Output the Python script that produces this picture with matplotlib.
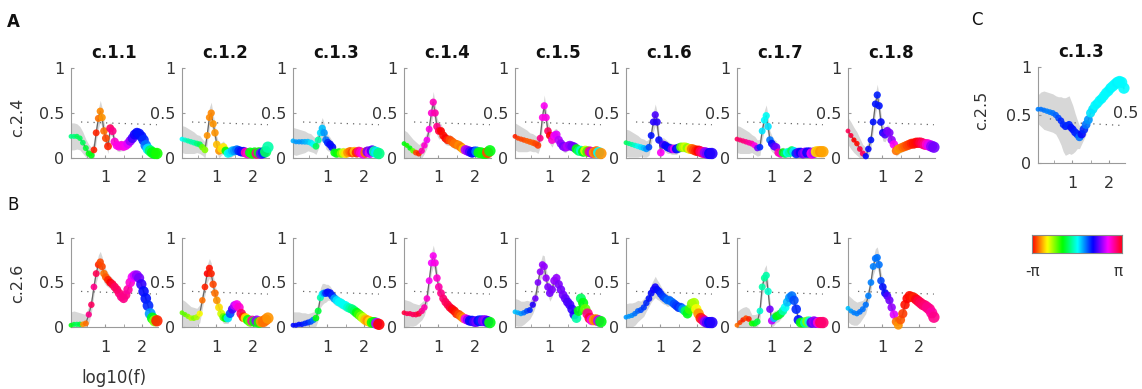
import numpy as np
import matplotlib
matplotlib.use("Agg")
import matplotlib.pyplot as plt

plt.rcParams['font.family'] = ['DejaVu Sans']

# ---------------- data ----------------
LOGF = [0.08, 0.16, 0.24, 0.32, 0.40, 0.48, 0.56, 0.63, 0.70, 0.76, 0.82, 0.87, 0.92, 0.97,
        1.02, 1.08, 1.14, 1.20, 1.26, 1.32, 1.38, 1.44, 1.50, 1.56, 1.62, 1.68, 1.74, 1.80,
        1.86, 1.92, 1.98, 2.04, 2.10, 2.16, 2.22, 2.28, 2.34, 2.40]

TITLES_A = ["c.1.1", "c.1.2", "c.1.3", "c.1.4", "c.1.5", "c.1.6", "c.1.7", "c.1.8"]
YLABEL_A = "c.2.4"
YLABEL_B = "c.2.6"
TITLE_C = "c.1.3"
YLABEL_C = "c.2.5"

# coherence (row A)
COH_A1 = [0.24,0.24,0.24,0.22,0.17,0.11,0.05,0.03,0.09,0.28,0.44,0.52,0.45,0.30,0.22,0.13,0.33,0.30,0.18,0.14,0.13,0.14,0.13,0.14,0.16,0.19,0.22,0.26,0.28,0.27,0.24,0.20,0.14,0.10,0.08,0.06,0.05,0.05]
COH_A2 = [0.21,0.20,0.19,0.18,0.17,0.16,0.15,0.12,0.09,0.25,0.45,0.50,0.38,0.28,0.15,0.08,0.10,0.12,0.08,0.05,0.06,0.08,0.08,0.09,0.08,0.07,0.07,0.06,0.05,0.06,0.05,0.06,0.05,0.06,0.05,0.06,0.07,0.12]
COH_A3 = [0.19,0.18,0.18,0.18,0.18,0.18,0.17,0.15,0.13,0.20,0.28,0.33,0.28,0.20,0.17,0.15,0.12,0.06,0.05,0.06,0.05,0.06,0.05,0.06,0.07,0.06,0.07,0.06,0.07,0.06,0.05,0.06,0.07,0.06,0.08,0.07,0.06,0.05]
COH_A4 = [0.16,0.14,0.11,0.08,0.06,0.05,0.08,0.14,0.20,0.32,0.50,0.62,0.50,0.35,0.30,0.30,0.25,0.22,0.20,0.20,0.18,0.16,0.15,0.14,0.12,0.10,0.09,0.08,0.07,0.06,0.07,0.07,0.06,0.06,0.05,0.05,0.06,0.08]
COH_A5 = [0.24,0.22,0.21,0.20,0.19,0.18,0.17,0.16,0.14,0.22,0.45,0.58,0.45,0.30,0.25,0.20,0.25,0.26,0.20,0.16,0.13,0.12,0.13,0.14,0.13,0.12,0.10,0.08,0.08,0.07,0.08,0.07,0.07,0.06,0.06,0.07,0.06,0.05]
COH_A6 = [0.17,0.16,0.15,0.14,0.13,0.12,0.11,0.10,0.12,0.25,0.40,0.48,0.40,0.20,0.06,0.15,0.14,0.12,0.11,0.10,0.10,0.10,0.11,0.12,0.12,0.12,0.11,0.10,0.10,0.09,0.08,0.08,0.07,0.06,0.06,0.05,0.05,0.05]
COH_A7 = [0.21,0.20,0.19,0.18,0.17,0.16,0.14,0.11,0.12,0.30,0.42,0.47,0.35,0.20,0.16,0.13,0.12,0.06,0.05,0.06,0.05,0.06,0.06,0.08,0.07,0.05,0.06,0.06,0.05,0.06,0.06,0.06,0.05,0.06,0.07,0.07,0.07,0.07]
COH_A8 = [0.30,0.25,0.20,0.16,0.10,0.05,0.02,0.10,0.20,0.40,0.60,0.70,0.58,0.40,0.28,0.26,0.30,0.28,0.20,0.15,0.08,0.10,0.11,0.12,0.13,0.14,0.15,0.16,0.16,0.17,0.17,0.17,0.16,0.15,0.15,0.14,0.13,0.12]

# phase in units of pi (row A)
PH_A1 = [-0.15,-0.15,-0.2,-0.2,-0.2,-0.25,-0.3,-0.3,-0.95,-0.95,-0.85,-0.82,-0.8,-0.85,-0.9,-0.95,0.9,0.85,0.75,0.72,0.72,0.72,0.72,0.7,0.65,0.55,0.45,0.38,0.35,0.33,0.33,0.3,0.2,0.05,-0.2,-0.3,-0.3,-0.35]
PH_A2 = [0.0,-0.05,-0.1,-0.1,-0.1,-0.15,-0.2,-0.45,-0.5,-0.8,-0.82,-0.82,-0.8,-0.8,-0.75,-0.8,-0.7,-0.68,-0.3,0.0,0.05,0.1,0.15,0.2,0.3,0.33,0.4,0.8,0.75,-0.3,-0.35,-0.3,0.85,-0.3,0.5,0.3,-0.2,-0.1]
PH_A3 = [0.12,0.15,0.15,0.15,0.12,0.1,0.05,0.0,-0.2,-0.1,0.05,0.1,0.15,0.2,0.3,0.35,0.35,-0.3,-0.3,-0.35,-0.5,-0.6,-0.7,-0.8,-0.85,-0.9,-0.75,-0.95,0.85,0.75,0.7,-0.85,0.5,0.65,0.45,-0.1,0.05,-0.15]
PH_A4 = [-0.3,-0.35,-0.3,-0.45,-0.9,-0.95,0.8,0.75,0.7,0.72,0.75,0.78,0.8,0.85,0.95,-1.0,-0.98,-1.0,-0.95,-0.9,-0.88,-0.85,-0.85,-0.82,-0.84,-0.75,0.6,0.55,0.45,0.35,0.35,0.2,-0.3,-0.3,-0.35,-0.3,-0.9,-0.3]
PH_A5 = [-0.95,-0.92,-0.9,-0.9,-0.88,-0.88,-0.88,-0.9,-0.92,0.85,0.72,0.7,0.72,0.9,-1.0,0.75,0.68,0.65,0.6,0.55,0.5,0.55,0.6,0.55,0.5,0.5,-0.3,-0.2,-0.05,-0.3,-0.6,-0.4,0.85,0.6,-0.8,-0.85,0.0,-0.8]
PH_A6 = [-0.2,-0.15,-0.1,-0.05,0.0,0.05,0.1,0.15,0.25,0.33,0.4,0.45,0.4,0.35,0.7,0.45,0.38,0.35,0.33,0.5,0.65,0.35,0.3,-0.45,-0.55,-0.6,-0.5,-0.7,-0.85,-0.9,-0.95,-1.0,0.9,0.85,0.55,0.5,0.35,0.4]
PH_A7 = [0.9,0.88,0.87,0.85,0.82,0.8,0.72,0.5,0.3,0.05,0.02,0.0,0.05,0.2,0.35,0.45,0.5,0.8,0.75,-0.3,-0.2,0.0,-0.1,-0.2,0.05,0.3,0.45,0.35,0.5,0.55,0.35,0.4,0.7,0.6,-0.7,-0.75,-0.8,-0.78]
PH_A8 = [0.92,0.95,-1.0,-0.98,0.95,0.9,0.35,0.35,0.33,0.33,0.33,0.32,0.33,0.35,0.38,0.45,0.5,0.52,0.55,0.7,-0.85,-0.8,-0.82,-0.85,-0.87,-0.9,-0.92,-0.95,-0.97,-0.98,1.0,0.95,0.9,0.85,0.75,0.65,0.55,0.5]

# coherence (row B)
COH_B1 = [0.02,0.03,0.03,0.03,0.03,0.04,0.14,0.25,0.45,0.60,0.70,0.73,0.68,0.60,0.56,0.53,0.50,0.48,0.45,0.42,0.38,0.34,0.32,0.36,0.42,0.50,0.56,0.58,0.58,0.55,0.48,0.40,0.32,0.24,0.15,0.10,0.07,0.07]
COH_B2 = [0.16,0.14,0.12,0.10,0.10,0.11,0.15,0.30,0.45,0.60,0.66,0.60,0.48,0.38,0.30,0.22,0.15,0.11,0.10,0.10,0.15,0.20,0.24,0.25,0.22,0.15,0.11,0.10,0.08,0.06,0.07,0.06,0.07,0.05,0.06,0.06,0.08,0.10]
COH_B3 = [0.02,0.02,0.03,0.03,0.04,0.05,0.06,0.08,0.10,0.18,0.33,0.37,0.38,0.38,0.39,0.38,0.35,0.32,0.30,0.28,0.27,0.25,0.24,0.22,0.21,0.20,0.18,0.16,0.14,0.12,0.10,0.08,0.07,0.06,0.05,0.05,0.04,0.03]
COH_B4 = [0.16,0.15,0.15,0.14,0.14,0.15,0.18,0.22,0.32,0.52,0.72,0.80,0.72,0.55,0.45,0.38,0.32,0.28,0.25,0.22,0.20,0.18,0.15,0.14,0.12,0.10,0.09,0.08,0.07,0.07,0.06,0.06,0.07,0.07,0.07,0.07,0.06,0.05]
COH_B5 = [0.17,0.16,0.15,0.16,0.18,0.19,0.25,0.32,0.50,0.62,0.70,0.68,0.55,0.45,0.38,0.42,0.52,0.55,0.48,0.42,0.36,0.32,0.28,0.25,0.20,0.14,0.10,0.18,0.32,0.27,0.20,0.15,0.10,0.08,0.08,0.08,0.07,0.06]
COH_B6 = [0.11,0.12,0.13,0.15,0.18,0.19,0.22,0.27,0.32,0.38,0.42,0.45,0.42,0.40,0.37,0.34,0.32,0.30,0.30,0.28,0.26,0.24,0.22,0.22,0.20,0.18,0.15,0.20,0.26,0.27,0.20,0.15,0.10,0.08,0.06,0.05,0.05,0.05]
COH_B7 = [0.02,0.05,0.08,0.10,0.09,0.04,0.04,0.06,0.18,0.45,0.55,0.58,0.40,0.20,0.07,0.10,0.12,0.13,0.15,0.18,0.22,0.28,0.33,0.35,0.30,0.20,0.08,0.05,0.05,0.05,0.06,0.06,0.05,0.06,0.05,0.05,0.05,0.05]
COH_B8 = [0.21,0.18,0.16,0.15,0.17,0.20,0.25,0.35,0.50,0.68,0.77,0.78,0.70,0.52,0.45,0.38,0.35,0.30,0.22,0.14,0.06,0.02,0.08,0.15,0.25,0.32,0.35,0.34,0.33,0.31,0.29,0.27,0.25,0.24,0.22,0.20,0.16,0.11]

# phase in units of pi (row B)
PH_B1 = [-0.3,-0.25,-0.2,-0.25,-0.8,-0.85,0.85,0.9,0.85,0.92,-0.95,-0.9,-0.9,-0.85,-0.88,-0.95,-1.0,0.95,0.9,0.9,0.88,0.85,0.85,0.85,0.82,0.75,0.68,0.62,0.55,0.5,0.42,0.35,0.33,0.3,0.15,-0.3,-0.5,-0.95]
PH_B2 = [-0.45,-0.45,-0.5,-0.55,-0.5,-0.55,-0.65,-0.85,-0.95,-1.0,-0.97,-0.95,-0.9,-0.85,-0.8,-0.7,-0.6,-0.45,-0.3,0.05,0.25,0.45,0.6,0.7,0.75,0.9,-0.95,-0.7,-0.3,-0.45,0.8,-0.3,0.55,-0.35,-0.8,-0.85,-0.85,-0.8]
PH_B3 = [0.35,0.35,0.33,0.33,0.3,0.3,0.25,0.2,-0.3,-0.25,-0.1,0.05,0.15,0.3,0.35,0.33,0.3,0.15,0.05,0.02,0.0,0.0,0.0,-0.05,-0.1,-0.15,-0.2,-0.3,-0.4,-0.5,-0.6,-0.75,-0.8,-0.7,-0.35,-0.3,0.6,-1.0]
PH_B4 = [0.95,0.92,0.92,0.9,0.92,0.95,0.85,0.8,0.75,0.7,0.68,0.7,0.72,0.75,0.8,0.85,0.88,0.9,0.92,0.95,1.0,-0.98,-0.95,-0.9,-0.85,-0.8,0.7,0.55,0.35,0.33,0.45,0.5,0.35,0.3,0.5,0.55,0.4,-0.3]
PH_B5 = [0.1,0.12,0.15,0.2,0.25,0.3,0.4,0.5,0.52,0.55,0.55,0.55,0.55,0.52,0.5,0.52,0.55,0.55,0.52,0.5,0.5,0.48,0.45,0.45,0.42,0.4,-0.1,-0.3,-0.2,-0.3,-0.45,0.85,0.95,0.7,-0.8,-0.85,0.6,-0.3]
PH_B6 = [0.15,0.15,0.17,0.2,0.22,0.25,0.28,0.3,0.33,0.35,0.38,0.38,0.35,0.33,0.3,0.28,0.25,0.2,0.22,0.2,0.25,0.28,0.3,0.25,0.15,-0.2,-0.3,-0.4,-0.5,-0.55,-0.65,-0.8,-0.95,0.9,0.55,0.45,0.35,0.4]
PH_B7 = [-0.85,-0.9,-0.95,-0.9,-0.95,-0.35,-0.3,-0.25,-0.05,-0.1,-0.12,-0.1,-0.05,0.5,0.6,0.1,-0.3,-0.3,-0.25,-0.1,0.0,0.1,0.15,0.2,0.25,0.3,0.33,-0.3,-0.35,-0.1,-0.5,-0.05,0.45,0.55,0.5,0.75,0.9,0.88]
PH_B8 = [0.1,0.15,0.18,0.18,0.2,0.2,0.2,0.18,0.18,0.18,0.2,0.2,0.2,0.25,0.33,0.35,0.45,0.5,0.55,0.65,-0.85,-0.8,-0.88,-0.92,-0.97,-1.0,-0.98,-0.97,-0.95,1.0,0.95,0.92,0.9,0.88,0.85,0.85,0.82,0.85]

# panel C
COH_C = [0.56,0.56,0.55,0.54,0.53,0.52,0.50,0.47,0.44,0.40,0.38,0.39,0.40,0.37,0.35,0.32,0.30,0.27,0.30,0.35,0.40,0.45,0.52,0.56,0.60,0.62,0.65,0.67,0.70,0.73,0.75,0.78,0.80,0.82,0.84,0.85,0.84,0.78]
PH_C = [0.18,0.2,0.2,0.18,0.18,0.2,0.22,0.25,0.3,0.3,0.32,0.3,0.3,0.33,0.33,0.32,0.3,0.2,0.35,0.3,0.2,0.15,0.05,0.05,0.02,0.03,0.02,0.03,0.02,0.02,0.02,0.03,0.02,0.02,0.03,0.02,0.02,0.02]

# confidence half-widths
CI_ROWS = [0.15,0.15,0.14,0.13,0.12,0.10,0.10,0.09,0.09,0.10,0.11,0.12,0.11,0.10,0.09,0.08,0.07,0.07,0.06,0.06,0.06,0.06,0.05,0.05,0.05,0.05,0.05,0.05,0.05,0.05,0.05,0.05,0.05,0.04,0.04,0.04,0.04,0.04]
CI_C = [0.15,0.18,0.20,0.20,0.20,0.20,0.20,0.22,0.25,0.28,0.30,0.30,0.30,0.28,0.25,0.20,0.15,0.12,0.10,0.10,0.10,0.08,0.08,0.07,0.07,0.06,0.06,0.06,0.05,0.05,0.05,0.05,0.05,0.05,0.05,0.05,0.05,0.05]

# significance thresholds
THR_X = [0.35, 2.40]
THR_ROWS = [0.40, 0.37]
THR_C_X = [0.40, 1.0, 2.40]
THR_C = [0.46, 0.42, 0.39]

ROW_A = [(COH_A1, PH_A1), (COH_A2, PH_A2), (COH_A3, PH_A3), (COH_A4, PH_A4),
         (COH_A5, PH_A5), (COH_A6, PH_A6), (COH_A7, PH_A7), (COH_A8, PH_A8)]
ROW_B = [(COH_B1, PH_B1), (COH_B2, PH_B2), (COH_B3, PH_B3), (COH_B4, PH_B4),
         (COH_B5, PH_B5), (COH_B6, PH_B6), (COH_B7, PH_B7), (COH_B8, PH_B8)]

# ---------------- figure ----------------
W, H = 1142, 389
fig = plt.figure(figsize=(W / 100, H / 100), dpi=100)
cmap = matplotlib.colormaps['hsv']
TICKC = '#333333'
SPINEC = '#9a9a9a'


def px_axes(left, top, width, height):
    return fig.add_axes([left / W, 1 - (top + height) / H, width / W, height / H])


def draw_panel(ax, coh, ph, ci, thr_x, thr_y):
    x = np.array(LOGF)
    y = np.array(coh)
    c = np.array(ci)
    ax.fill_between(x, np.clip(y - c, 0, 1), np.clip(y + c, 0, 1),
                    color='#cdcdcd', alpha=0.8, lw=0, zorder=1)
    ax.plot(thr_x, thr_y, color='#666666', lw=0.9, ls=(0, (1, 4)), zorder=2)
    ax.plot(x, y, color='#666666', lw=0.9, zorder=3)
    t = (x - x.min()) / (x.max() - x.min())
    sizes = 12 + 55 * t ** 1.2
    cols = cmap((np.array(ph) + 1) / 2)
    ax.scatter(x, y, s=sizes, c=cols, marker='o', lw=0, alpha=0.9,
               zorder=4, clip_on=False)
    ax.set_xlim(0.08, 2.43)
    ax.set_ylim(0, 1)
    ax.set_xticks([1, 2])
    ax.set_xticklabels(['1', '2'])
    ax.set_xticks([0.5, 1.5], minor=True)
    ax.set_yticks([0, 0.5, 1])
    ax.set_yticklabels(['0', '0.5', '1'])
    for s in ['top', 'right']:
        ax.spines[s].set_visible(False)
    for s in ['left', 'bottom']:
        ax.spines[s].set_color(SPINEC)
        ax.spines[s].set_linewidth(0.8)
    ax.tick_params(axis='both', which='both', direction='in', length=2.5,
                   color=SPINEC, labelcolor=TICKC, labelsize=11.5)
    ax.tick_params(axis='x', which='both', pad=9)
    ax.tick_params(axis='y', pad=5)
    ax.set_facecolor('none')


for i, (coh, ph) in enumerate(ROW_A):
    ax = px_axes(71 + 111 * i, 68, 87, 90)
    draw_panel(ax, coh, ph, CI_ROWS, THR_X, THR_ROWS)
    ax.set_title(TITLES_A[i], fontsize=12, fontweight='bold', pad=7, color='#111111')

for i, (coh, ph) in enumerate(ROW_B):
    ax = px_axes(71 + 111 * i, 238, 87, 89)
    draw_panel(ax, coh, ph, CI_ROWS, THR_X, THR_ROWS)

axc = px_axes(1038, 67, 87, 96)
draw_panel(axc, COH_C, PH_C, CI_C, THR_C_X, THR_C)
axc.set_title(TITLE_C, fontsize=12, fontweight='bold', pad=7, color='#111111')
fig.text(1113 / W, 1 - 113 / H, '0.5', fontsize=11.5, color=TICKC, ha='left', va='center')

# colour bar
cax = px_axes(1032, 235, 90, 18)
grad = np.linspace(0, 1, 256)[None, :]
cax.imshow(grad, aspect='auto', cmap=cmap, extent=[-np.pi, np.pi, 0, 1])
cax.set_xticks([])
cax.set_yticks([])
for s in cax.spines.values():
    s.set_color('#888888')
    s.set_linewidth(0.8)
fig.text(1033 / W, 1 - 272 / H, '-π', fontsize=11, color=TICKC, ha='center', va='center')
fig.text(1118 / W, 1 - 272 / H, 'π', fontsize=11, color=TICKC, ha='center', va='center')

# labels
fig.text(18 / W, 1 - 117 / H, YLABEL_A, rotation=90, fontsize=11.5, color=TICKC, ha='center', va='center')
fig.text(18 / W, 1 - 283 / H, YLABEL_B, rotation=90, fontsize=11.5, color=TICKC, ha='center', va='center')
fig.text(982 / W, 1 - 110 / H, YLABEL_C, rotation=90, fontsize=11.5, color=TICKC, ha='center', va='center')
fig.text(114 / W, 1 - 378 / H, 'log10(f)', fontsize=12, color=TICKC, ha='center', va='center')
fig.text(13 / W, 1 - 22 / H, 'A', fontsize=12, fontweight='bold', color='#111111', ha='center', va='center')
fig.text(13 / W, 1 - 205 / H, 'B', fontsize=12, color='#111111', ha='center', va='center')
fig.text(977 / W, 1 - 20 / H, 'C', fontsize=12, color='#111111', ha='center', va='center')

fig.savefig('out.png', dpi=100)
